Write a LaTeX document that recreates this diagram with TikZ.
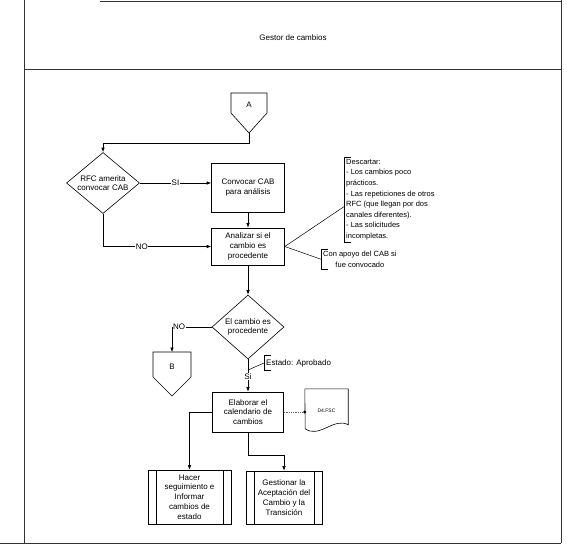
\documentclass[tikz,border=0pt]{standalone}
\usepackage{fontspec}
\setmainfont{Liberation Sans}
\usetikzlibrary{shapes.geometric,arrows.meta,positioning}
\begin{document}
\begin{tikzpicture}[x=1pt,y=-1pt]
\useasboundingbox (0,0) rectangle (567,551);

\tikzstyle{proc} = [draw, shape=rectangle, align=center, inner sep=1pt, line width=0.6pt, font=\fontsize{8}{9.8}\selectfont]
\tikzstyle{dec} = [draw, shape=diamond, minimum width=73pt, minimum height=61pt, inner sep=0pt, line width=0.6pt]
\tikzstyle{sub} = [proc, path picture={\draw ([xshift=8pt]path picture bounding box.north west) -- ([xshift=8pt]path picture bounding box.south west); \draw ([xshift=-8pt]path picture bounding box.north east) -- ([xshift=-8pt]path picture bounding box.south east);}]
\tikzstyle{nota} = [align=left, inner sep=2pt, font=\fontsize{7.5}{10.6}\selectfont]
\tikzstyle{lbl} = [fill=white, inner sep=0.5pt, font=\fontsize{8}{9}\selectfont]
\tikzstyle{flecha} = [line width=0.6pt, -{Latex[length=4.5pt,width=3.5pt]}]

% Marco
\draw[black!80, line width=0.6pt] (24,0) -- (24,543);
\draw[black!80, line width=0.6pt] (561,0) -- (561,543);
\draw[black!80, line width=0.6pt] (100,1.5) -- (561,1.5);
\draw[black!80, line width=0.6pt] (24,69) -- (561,69);
\draw[black!80, line width=0.6pt] (0,543) -- (561,543);
\node at (293,38) [font=\fontsize{8}{9}\selectfont] (titulo) {Gestor de cambios};

% Conector A
\draw[line width=0.6pt] (231,93) -- (267,93) -- (267,113) -- (249,133) -- (231,113) -- cycle;
\node at (249,105) [font=\fontsize{8}{9}\selectfont] (a) {A};
\coordinate (apunta) at (249,133);

\node at (103,183) [dec, label={[align=center,font=\fontsize{8}{9.5}\selectfont]center:{RFC amerita\\convocar CAB}}] (rfc) {};
\node at (248,187.5) [proc, minimum width=73pt, minimum height=49pt] (conv) {Convocar CAB\\para análisis};
\node at (248,246.5) [proc, minimum width=73pt, minimum height=37pt] (anal) {Analizar si el\\cambio es\\procedente};
\node at (248,327) [dec, minimum width=72pt, minimum height=64pt, label={[align=center,font=\fontsize{8}{9.5}\selectfont]center:{El cambio es\\procedente}}] (proce) {};
\node at (248,412) [proc, minimum width=71pt, minimum height=40pt] (elab) {Elaborar el\\calendario de\\cambios};
\node at (189.5,497) [sub, minimum width=83pt, minimum height=54pt] (hacer) {Hacer\\seguimiento e\\Informar\\cambios de\\estado};
\node at (284,497.5) [sub, minimum width=76pt, minimum height=53pt] (gest) {Gestionar la\\Aceptación del\\Cambio y la\\Transición};

% Conector B
\draw[line width=0.6pt] (153,352) -- (191,352) -- (191,377) -- (172,396) -- (153,377) -- cycle;
\node at (172,367) [font=\fontsize{8}{9}\selectfont] (b) {B};
\coordinate (bnorte) at (172,352);

% Documento
\node at (326.5,411) [minimum width=43pt, minimum height=44pt, font=\fontsize{5}{6}\selectfont] (doc) {D4.FSC};
\draw[line width=0.6pt] (doc.north west) -- (doc.north east) -- ++(0,36) .. controls +(-14,-8) and +(14,10) .. ++(-43,4) -- cycle;

% Notas
\node at (344,157) [nota, anchor=north west] (desc) {Descartar:\\- Los cambios poco\\prácticos.\\- Las repeticiones de otros\\RFC (que llegan por dos\\canales diferentes).\\- Las solicitudes\\incompletas.};
\draw[line width=0.5pt] ([xshift=7pt]desc.north west) -- (desc.north west) -- (desc.south west) -- ([xshift=7pt]desc.south west);
\node at (321,249) [nota, align=center, anchor=north west] (apoyo) {Con apoyo del CAB si\\fue convocado};
\draw[line width=0.5pt] ([xshift=7pt]apoyo.north west) -- (apoyo.north west) -- (apoyo.south west) -- ([xshift=7pt]apoyo.south west);
\node at (264,363) [nota, anchor=west, minimum height=15pt, font=\fontsize{8}{9}\selectfont] (estado) {Estado: Aprobado};
\draw[line width=0.5pt] ([xshift=7pt]estado.north west) -- (estado.north west) -- (estado.south west) -- ([xshift=7pt]estado.south west);

% Flujo
\draw[flecha] (apunta) -- ++(0,10) -| (rfc.north);
\draw[flecha] (rfc.east) -- node[lbl]{SI} (rfc.east -| conv.west);
\draw[flecha] (conv) -- (anal);
\draw[flecha] (rfc.south) |- node[lbl, pos=0.68]{NO} (anal.west);
\draw[line width=0.5pt] (anal.east) -- ([yshift=-7pt]desc.west);
\draw[line width=0.5pt] (anal.east) -- (apoyo.west);
\draw[flecha] (anal) -- (proce);
\draw[flecha] (proce.west) -| node[lbl, pos=0.41]{NO} (bnorte);
\draw[flecha] (proce.south) -- coordinate[pos=0.33] (est) node[lbl, pos=0.52]{Si} (elab.north);
\draw[line width=0.5pt] (est) -- (estado.west);
\draw[black!60, densely dotted, line width=0.8pt] (elab.east) -- (elab.east -| doc.west);
\fill (elab.east -| doc.west) circle (1.6pt);
\draw[flecha] (elab.west) -| (hacer.north);
\draw[flecha] (elab.south) -- ++(0,23) -| (gest.north);
\end{tikzpicture}
\end{document}
